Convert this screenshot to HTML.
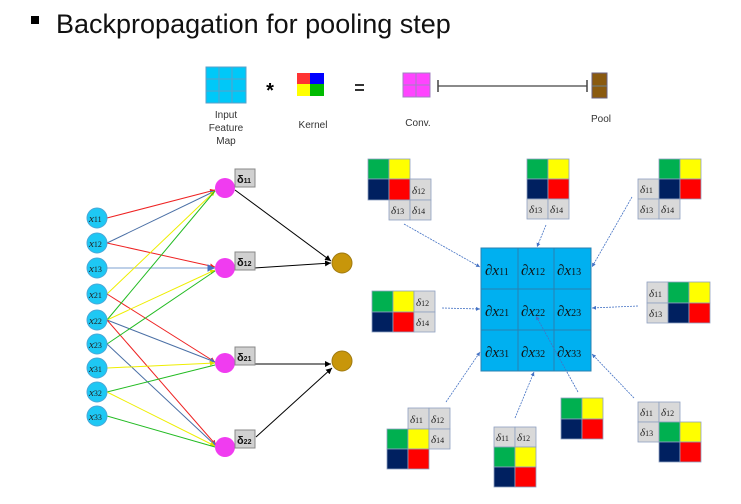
<!DOCTYPE html>
<html><head><meta charset="utf-8"><style>
html,body{margin:0;padding:0;background:#fff;}
svg{display:block;font-family:"Liberation Sans",sans-serif;}
.d{font-family:"Liberation Serif",serif;font-style:italic;font-size:11px;fill:#222;}
.dx{font-family:"Liberation Serif",serif;font-style:italic;font-size:15px;fill:#111;}
</style></head><body>
<svg width="741" height="504" viewBox="0 0 741 504" xmlns="http://www.w3.org/2000/svg">
<defs>
<marker id="ab" viewBox="0 0 10 10" refX="10" refY="5" markerWidth="6" markerHeight="6" orient="auto"><path d="M0,0L10,5L0,10z" fill="#000"/></marker>
<marker id="ay" viewBox="0 0 10 10" refX="10" refY="5" markerWidth="5" markerHeight="5" orient="auto"><path d="M0,0L10,5L0,10z" fill="#dddd00"/></marker>
<marker id="ar" viewBox="0 0 10 10" refX="10" refY="5" markerWidth="5" markerHeight="5" orient="auto"><path d="M0,0L10,5L0,10z" fill="#e22"/></marker>
<marker id="abl" viewBox="0 0 10 10" refX="10" refY="5" markerWidth="5" markerHeight="5" orient="auto"><path d="M0,0L10,5L0,10z" fill="#4472c4"/></marker>
</defs>
<rect x="31" y="16" width="8" height="8" fill="#000"/>
<text x="56" y="33" font-size="27" fill="#111">Backpropagation for pooling step</text>

<!-- top legend -->
<g stroke="#5aa0c8" stroke-width="1">
<rect x="206" y="67" width="40" height="36" fill="#00c8f8"/>
<line x1="219" y1="67" x2="219" y2="103"/><line x1="232" y1="67" x2="232" y2="103"/>
<line x1="206" y1="79" x2="246" y2="79"/><line x1="206" y1="91" x2="246" y2="91"/>
</g>
<text x="270" y="97" font-size="20" font-weight="bold" text-anchor="middle">*</text>
<rect x="297" y="73" width="13" height="11" fill="#f33"/><rect x="310" y="73" width="14" height="11" fill="#00f"/>
<rect x="297" y="84" width="13" height="12" fill="#ff0"/><rect x="310" y="84" width="14" height="12" fill="#0b0"/>
<rect x="355" y="84" width="9" height="2" fill="#333"/><rect x="355" y="89" width="9" height="2" fill="#333"/>
<g stroke="#a080c0"><rect x="403" y="73" width="27" height="24" fill="#f4f"/><line x1="416" y1="73" x2="416" y2="97"/><line x1="403" y1="85" x2="430" y2="85"/></g>
<line x1="438" y1="86" x2="587" y2="86" stroke="#444" stroke-width="1.2"/>
<line x1="438" y1="80" x2="438" y2="92" stroke="#444" stroke-width="1.5"/><line x1="587" y1="80" x2="587" y2="92" stroke="#444" stroke-width="1.5"/>
<rect x="592" y="73" width="15" height="25" fill="#8a5a10" stroke="#6a6080"/><line x1="592" y1="86" x2="607" y2="86" stroke="#6a8090"/>
<g font-size="10" fill="#333" text-anchor="middle">
<text x="226" y="118">Input</text><text x="226" y="131">Feature</text><text x="226" y="144">Map</text>
<text x="313" y="128">Kernel</text><text x="418" y="126">Conv.</text><text x="601" y="122">Pool</text>
</g>

<!-- left network edges -->
<g stroke-width="1" fill="none">
<line x1="107" y1="218" x2="215" y2="190" stroke="#e22" marker-end="url(#ar)"/>
<line x1="107" y1="243" x2="215" y2="191" stroke="#4a6fa5" marker-end="url(#abl)"/>
<line x1="107" y1="243" x2="215" y2="267" stroke="#e22" marker-end="url(#ar)"/>
<line x1="107" y1="268" x2="215" y2="268" stroke="#a8c0e0" stroke-width="1.5" marker-end="url(#abl)"/>
<line x1="107" y1="294" x2="215" y2="191" stroke="#ee0" marker-end="url(#ay)"/>
<line x1="107" y1="294" x2="215" y2="362" stroke="#e22" marker-end="url(#ar)"/>
<line x1="107" y1="320" x2="215" y2="191" stroke="#2b2" />
<line x1="107" y1="320" x2="215" y2="270" stroke="#ee0" marker-end="url(#ay)"/>
<line x1="107" y1="320" x2="215" y2="362" stroke="#4a6fa5" marker-end="url(#abl)"/>
<line x1="107" y1="320" x2="216" y2="445" stroke="#e22" marker-end="url(#ar)"/>
<line x1="107" y1="344" x2="215" y2="271" stroke="#2b2"/>
<line x1="107" y1="344" x2="216" y2="446" stroke="#4a6fa5" marker-end="url(#abl)"/>
<line x1="107" y1="368" x2="215" y2="363" stroke="#ee0" marker-end="url(#ay)"/>
<line x1="107" y1="392" x2="215" y2="365" stroke="#2b2"/>
<line x1="107" y1="392" x2="215" y2="446" stroke="#ee0" marker-end="url(#ay)"/>
<line x1="107" y1="416" x2="215" y2="447" stroke="#2b2"/>
</g>
<g stroke="#000" stroke-width="1">
<line x1="235" y1="190" x2="331" y2="261" marker-end="url(#ab)"/>
<line x1="254" y1="268" x2="331" y2="263" marker-end="url(#ab)"/>
<line x1="235" y1="364" x2="331" y2="364" marker-end="url(#ab)"/>
<line x1="256" y1="437" x2="332" y2="368" marker-end="url(#ab)"/>
</g>
<g fill="#1ec8f4" stroke="#4aa8d8">
<circle cx="97" cy="218" r="10"/><circle cx="97" cy="243" r="10"/><circle cx="97" cy="268" r="10"/>
<circle cx="97" cy="294" r="10"/><circle cx="97" cy="320" r="10"/><circle cx="97" cy="344" r="10"/>
<circle cx="97" cy="368" r="10"/><circle cx="97" cy="392" r="10"/><circle cx="97" cy="416" r="10"/>
</g>
<g font-family="Liberation Serif,serif" font-style="italic" font-size="11" fill="#222">
<text x="89" y="222">x<tspan font-size="8" font-style="normal">11</tspan></text>
<text x="89" y="247">x<tspan font-size="8" font-style="normal">12</tspan></text>
<text x="89" y="272">x<tspan font-size="8" font-style="normal">13</tspan></text>
<text x="89" y="298">x<tspan font-size="8" font-style="normal">21</tspan></text>
<text x="89" y="324">x<tspan font-size="8" font-style="normal">22</tspan></text>
<text x="89" y="348">x<tspan font-size="8" font-style="normal">23</tspan></text>
<text x="89" y="372">x<tspan font-size="8" font-style="normal">31</tspan></text>
<text x="89" y="396">x<tspan font-size="8" font-style="normal">32</tspan></text>
<text x="89" y="420">x<tspan font-size="8" font-style="normal">33</tspan></text>
</g>
<g fill="#f03cf0"><circle cx="225" cy="188" r="10"/><circle cx="225" cy="268" r="10"/><circle cx="225" cy="363" r="10"/><circle cx="225" cy="447" r="10"/></g>
<g fill="#c8960a" stroke="#a07a10"><circle cx="342" cy="263" r="10"/><circle cx="342" cy="361" r="10"/></g>
<g fill="#d0d0d0" stroke="#888">
<rect x="235" y="169" width="20" height="18"/><rect x="235" y="252" width="20" height="18"/>
<rect x="235" y="347" width="20" height="18"/><rect x="235" y="430" width="20" height="18"/>
</g>
<g font-size="11" font-weight="bold" fill="#111">
<text x="237" y="183">δ<tspan font-size="7">11</tspan></text>
<text x="237" y="266">δ<tspan font-size="7">12</tspan></text>
<text x="237" y="361">δ<tspan font-size="7">21</tspan></text>
<text x="237" y="444">δ<tspan font-size="7">22</tspan></text>
</g>

<!-- big grid -->
<rect x="481" y="248" width="110" height="123" fill="#00b0f0" stroke="#2a80b0"/>
<g stroke="#2a80b0"><line x1="518" y1="248" x2="518" y2="371"/><line x1="554" y1="248" x2="554" y2="371"/>
<line x1="481" y1="289" x2="591" y2="289"/><line x1="481" y1="330" x2="591" y2="330"/></g>
<g class="dx">
<text x="485" y="275">∂x<tspan font-size="10" font-style="normal">11</tspan></text>
<text x="521" y="275">∂x<tspan font-size="10" font-style="normal">12</tspan></text>
<text x="557" y="275">∂x<tspan font-size="10" font-style="normal">13</tspan></text>
<text x="485" y="316">∂x<tspan font-size="10" font-style="normal">21</tspan></text>
<text x="521" y="316">∂x<tspan font-size="10" font-style="normal">22</tspan></text>
<text x="557" y="316">∂x<tspan font-size="10" font-style="normal">23</tspan></text>
<text x="485" y="357">∂x<tspan font-size="10" font-style="normal">31</tspan></text>
<text x="521" y="357">∂x<tspan font-size="10" font-style="normal">32</tspan></text>
<text x="557" y="357">∂x<tspan font-size="10" font-style="normal">33</tspan></text>
</g>

<!-- arrows -->
<g stroke="#4472c4" stroke-width="0.8" stroke-dasharray="2,1" marker-end="url(#abl)">
<line x1="404" y1="224" x2="480" y2="267"/>
<line x1="546" y1="225" x2="537" y2="247"/>
<line x1="632" y1="197" x2="592" y2="267"/>
<line x1="442" y1="308" x2="480" y2="309"/>
<line x1="638" y1="306" x2="592" y2="308"/>
<line x1="446" y1="402" x2="480" y2="352"/>
<line x1="515" y1="418" x2="534" y2="372"/>
<line x1="578" y1="392" x2="536" y2="316"/>
<line x1="634" y1="398" x2="592" y2="354"/>
</g>

<!-- small blocks: cell helper via rects -->
<g stroke="#8ea0c0" stroke-width="0.8">
<!-- top-left -->
<rect x="368" y="159" width="21" height="20" fill="#00b050"/><rect x="389" y="159" width="21" height="20" fill="#ff0"/>
<rect x="368" y="179" width="21" height="21" fill="#002060"/><rect x="389" y="179" width="21" height="21" fill="#f00"/>
<rect x="410" y="179" width="21" height="21" fill="#d9d9d9"/><rect x="389" y="200" width="21" height="20" fill="#d9d9d9"/><rect x="410" y="200" width="21" height="20" fill="#d9d9d9"/>
<!-- top-mid -->
<rect x="527" y="159" width="21" height="20" fill="#00b050"/><rect x="548" y="159" width="21" height="20" fill="#ff0"/>
<rect x="527" y="179" width="21" height="20" fill="#002060"/><rect x="548" y="179" width="21" height="20" fill="#f00"/>
<rect x="527" y="199" width="21" height="20" fill="#d9d9d9"/><rect x="548" y="199" width="21" height="20" fill="#d9d9d9"/>
<!-- top-right -->
<rect x="659" y="159" width="21" height="20" fill="#00b050"/><rect x="680" y="159" width="21" height="20" fill="#ff0"/>
<rect x="638" y="179" width="21" height="20" fill="#d9d9d9"/><rect x="659" y="179" width="21" height="20" fill="#002060"/><rect x="680" y="179" width="21" height="20" fill="#f00"/>
<rect x="638" y="199" width="21" height="20" fill="#d9d9d9"/><rect x="659" y="199" width="21" height="20" fill="#d9d9d9"/>
<!-- mid-left -->
<rect x="372" y="291" width="21" height="21" fill="#00b050"/><rect x="393" y="291" width="21" height="21" fill="#ff0"/><rect x="414" y="291" width="21" height="21" fill="#d9d9d9"/>
<rect x="372" y="312" width="21" height="20" fill="#002060"/><rect x="393" y="312" width="21" height="20" fill="#f00"/><rect x="414" y="312" width="21" height="20" fill="#d9d9d9"/>
<!-- mid-right -->
<rect x="647" y="282" width="21" height="21" fill="#d9d9d9"/><rect x="668" y="282" width="21" height="21" fill="#00b050"/><rect x="689" y="282" width="21" height="21" fill="#ff0"/>
<rect x="647" y="303" width="21" height="20" fill="#d9d9d9"/><rect x="668" y="303" width="21" height="20" fill="#002060"/><rect x="689" y="303" width="21" height="20" fill="#f00"/>
<!-- bottom-left -->
<rect x="408" y="408" width="21" height="21" fill="#d9d9d9"/><rect x="429" y="408" width="21" height="21" fill="#d9d9d9"/>
<rect x="387" y="429" width="21" height="20" fill="#00b050"/><rect x="408" y="429" width="21" height="20" fill="#ff0"/><rect x="429" y="429" width="21" height="20" fill="#d9d9d9"/>
<rect x="387" y="449" width="21" height="20" fill="#002060"/><rect x="408" y="449" width="21" height="20" fill="#f00"/>
<!-- bottom-mid -->
<rect x="494" y="427" width="21" height="20" fill="#d9d9d9"/><rect x="515" y="427" width="21" height="20" fill="#d9d9d9"/>
<rect x="494" y="447" width="21" height="20" fill="#00b050"/><rect x="515" y="447" width="21" height="20" fill="#ff0"/>
<rect x="494" y="467" width="21" height="20" fill="#002060"/><rect x="515" y="467" width="21" height="20" fill="#f00"/>
<!-- bottom-center -->
<rect x="561" y="398" width="21" height="21" fill="#00b050"/><rect x="582" y="398" width="21" height="21" fill="#ff0"/>
<rect x="561" y="419" width="21" height="20" fill="#002060"/><rect x="582" y="419" width="21" height="20" fill="#f00"/>
<!-- bottom-right -->
<rect x="638" y="402" width="21" height="20" fill="#d9d9d9"/><rect x="659" y="402" width="21" height="20" fill="#d9d9d9"/>
<rect x="638" y="422" width="21" height="20" fill="#d9d9d9"/><rect x="659" y="422" width="21" height="20" fill="#00b050"/><rect x="680" y="422" width="21" height="20" fill="#ff0"/>
<rect x="659" y="442" width="21" height="20" fill="#002060"/><rect x="680" y="442" width="21" height="20" fill="#f00"/>
</g>
<g class="d">
<text x="412" y="194">δ<tspan font-size="8" font-style="normal">12</tspan></text>
<text x="391" y="214">δ<tspan font-size="8" font-style="normal">13</tspan></text><text x="412" y="214">δ<tspan font-size="8" font-style="normal">14</tspan></text>
<text x="529" y="213">δ<tspan font-size="8" font-style="normal">13</tspan></text><text x="550" y="213">δ<tspan font-size="8" font-style="normal">14</tspan></text>
<text x="640" y="193">δ<tspan font-size="8" font-style="normal">11</tspan></text>
<text x="640" y="213">δ<tspan font-size="8" font-style="normal">13</tspan></text><text x="661" y="213">δ<tspan font-size="8" font-style="normal">14</tspan></text>
<text x="416" y="306">δ<tspan font-size="8" font-style="normal">12</tspan></text><text x="416" y="326">δ<tspan font-size="8" font-style="normal">14</tspan></text>
<text x="649" y="297">δ<tspan font-size="8" font-style="normal">11</tspan></text><text x="649" y="317">δ<tspan font-size="8" font-style="normal">13</tspan></text>
<text x="410" y="423">δ<tspan font-size="8" font-style="normal">11</tspan></text><text x="431" y="423">δ<tspan font-size="8" font-style="normal">12</tspan></text>
<text x="431" y="443">δ<tspan font-size="8" font-style="normal">14</tspan></text>
<text x="496" y="441">δ<tspan font-size="8" font-style="normal">11</tspan></text><text x="517" y="441">δ<tspan font-size="8" font-style="normal">12</tspan></text>
<text x="640" y="416">δ<tspan font-size="8" font-style="normal">11</tspan></text><text x="661" y="416">δ<tspan font-size="8" font-style="normal">12</tspan></text>
<text x="640" y="436">δ<tspan font-size="8" font-style="normal">13</tspan></text>
</g>
</svg>
</body></html>
